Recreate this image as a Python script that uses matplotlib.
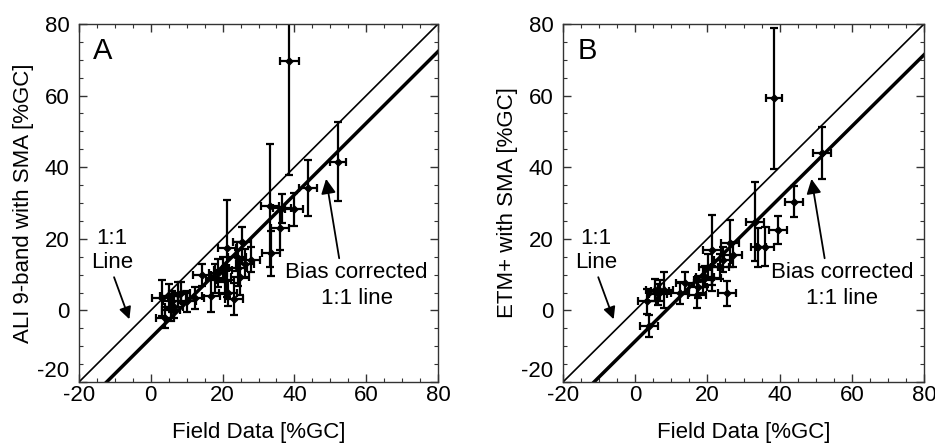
"""
Field data vs SMA estimates, ALI 9-band (A) and ETM+ (B)
"""

import matplotlib.pyplot as plt
import numpy as np

plt.rcParams['font.family'] = ['Liberation Sans', 'DejaVu Sans']
plt.rcParams['axes.unicode_minus'] = False

# Panel A: ALI 9-band
a_x = [38.6, 52.2, 43.9, 40.0, 36.5, 33.3, 36.0, 33.6, 25.5, 21.1, 23.9, 26.2,
       28.0, 24.4, 18.8, 17.9, 20.7, 20.2, 24.8, 21.6, 23.2, 16.8, 14.2, 12.3,
       3.0, 5.0, 6.0, 7.5, 8.5, 6.5, 4.0, 5.5, 10.0]
a_y = [69.8, 41.5, 34.2, 28.2, 28.5, 29.2, 22.9, 16.0, 19.0, 17.3, 15.0, 13.1,
       14.1, 11.8, 10.4, 9.0, 8.5, 11.3, 9.4, 4.8, 3.2, 4.0, 9.9, 3.4,
       3.5, 4.0, 2.5, 4.5, 5.0, 1.0, -2.0, 0.0, 2.5]
a_xerr = [2.7, 2.3, 2.5, 2.5, 2.5, 2.5, 2.5, 2.5, 2.5, 2.5, 2.5, 2.5,
          2.5, 2.5, 2.5, 2.5, 2.5, 2.5, 2.5, 2.5, 2.5, 2.5, 2.5, 2.5,
          2.8, 2.5, 2.5, 2.5, 2.5, 2.5, 2.5, 2.5, 2.5]
a_yerr = [32.0, 11.0, 7.7, 4.7, 4.0, 17.2, 6.0, 6.3, 4.3, 13.5, 4.0, 4.0,
          3.5, 5.0, 4.0, 4.0, 4.0, 3.5, 5.0, 3.5, 4.5, 4.5, 3.0, 3.0,
          5.0, 3.5, 3.0, 3.5, 3.0, 3.0, 3.0, 3.0, 3.0]
a_bias = -7.7

# Panel B: ETM+
b_x = [38.5, 51.7, 44.0, 39.6, 33.2, 34.1, 35.9, 26.3, 27.2, 24.4, 21.2, 20.3,
       18.9, 21.2, 25.3, 17.0, 12.4, 13.8, 19.3, 23.5, 8.0, 3.4, 3.8, 5.5,
       7.0, 6.4, 17.5]
b_y = [59.2, 43.9, 30.4, 22.5, 24.8, 17.6, 17.8, 18.7, 15.5, 14.1, 16.9, 12.2,
       8.5, 9.0, 4.8, 4.3, 4.8, 7.6, 9.4, 12.2, 5.7, 2.6, -4.3, 5.7,
       5.5, 4.5, 6.6]
b_xerr = [2.3, 2.5, 2.5, 2.5, 2.5, 2.0, 2.5, 2.5, 2.5, 2.5, 2.5, 2.5,
          2.5, 2.5, 2.5, 2.5, 2.5, 2.5, 2.5, 2.5, 2.5, 2.5, 2.5, 2.5,
          2.5, 2.5, 2.5]
b_yerr = [19.8, 7.3, 4.4, 4.0, 11.0, 5.5, 5.5, 6.6, 3.5, 3.5, 9.7, 3.5,
          3.5, 3.5, 3.5, 3.5, 3.0, 3.0, 3.0, 3.5, 5.0, 3.5, 3.0, 3.0,
          3.0, 3.0, 3.0]
b_bias = -8.6

fig = plt.figure(figsize=(9.35, 4.45), dpi=100)
axA = fig.add_axes([79 / 935, 63 / 445, 359 / 935, 358 / 445])
axB = fig.add_axes([563 / 935, 63 / 445, 361 / 935, 358 / 445])

panels = [
    (axA, a_x, a_y, a_xerr, a_yerr, a_bias, 'A', 'ALI 9-band with SMA [%GC]'),
    (axB, b_x, b_y, b_xerr, b_yerr, b_bias, 'B', 'ETM+ with SMA [%GC]'),
]

line = np.array([-20, 80])
for ax, x, y, xe, ye, bias, tag, ylab in panels:
    ax.plot(line, line, color='black', lw=1.2)
    ax.plot(line, line + bias, color='black', lw=2.5)
    ax.errorbar(x, y, xerr=xe, yerr=ye, fmt='D', color='black', ms=3.5,
                elinewidth=1.6, capsize=3, capthick=1.6)
    ax.set_xlim(-20, 80)
    ax.set_ylim(-20, 80)
    ax.set_xticks([-20, 0, 20, 40, 60, 80])
    ax.set_yticks([-20, 0, 20, 40, 60, 80])
    ax.set_xticks(np.arange(-20, 81, 5), minor=True)
    ax.set_yticks(np.arange(-20, 81, 5), minor=True)
    ax.tick_params(which='both', direction='in', top=True, right=True,
                   labelsize=16, color='#333333')
    ax.tick_params(which='major', length=6, width=1)
    ax.tick_params(which='minor', length=3, width=0.8)
    ax.tick_params(axis='x', pad=2)
    ax.tick_params(axis='y', pad=7)
    # lowest y label sits just above the corner, as in the original
    ax.get_yticklabels()[0].set_va('bottom')
    for s in ax.spines.values():
        s.set_linewidth(1.0)
        s.set_color('#333333')
    ax.set_xlabel('Field Data [%GC]', fontsize=16, labelpad=12)
    ax.set_ylabel(ylab, fontsize=16, labelpad=2)
    ax.text(0.04, 0.965, tag, transform=ax.transAxes, fontsize=21,
            ha='left', va='top')

    ax.text(-10.8, 20.2, '1:1', fontsize=16, ha='center', va='center')
    ax.text(-10.8, 13.3, 'Line', fontsize=16, ha='center', va='center')
    ax.annotate('', xy=(-5.7, -3.2), xytext=(-10.5, 10.0),
                arrowprops=dict(arrowstyle='-|>', color='black', lw=1.3,
                                mutation_scale=18))
    ax.text(57.3, 10.5, 'Bias corrected', fontsize=16, ha='center', va='center')
    ax.text(57.3, 3.4, '1:1 line', fontsize=16, ha='center', va='center')
    ax.annotate('', xy=(48.7, 37.5), xytext=(52.6, 13.8),
                arrowprops=dict(arrowstyle='-|>', color='black', lw=1.3,
                                mutation_scale=22))

fig.savefig('out.png', dpi=100)
